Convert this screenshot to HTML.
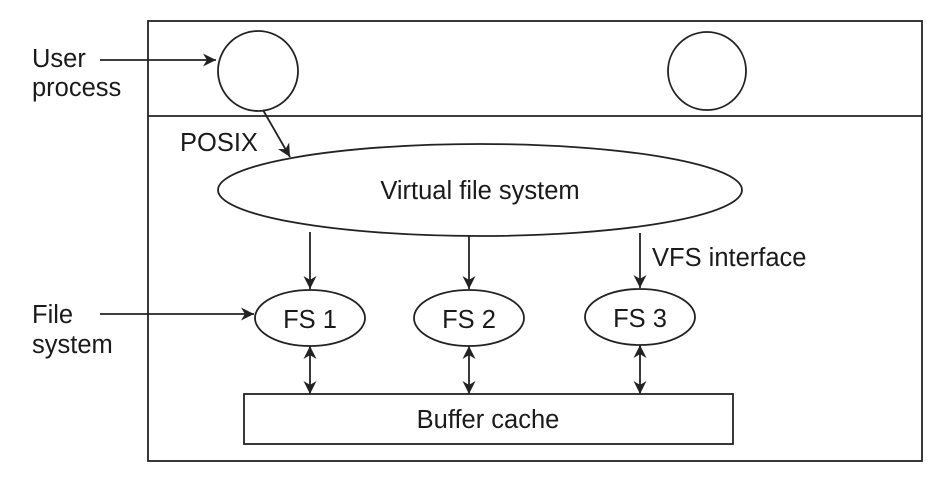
<!DOCTYPE html>
<html><head><style>body{margin:0;background:#fff}svg{display:block}</style></head><body>
<svg width="946" height="491" viewBox="0 0 946 491" xmlns="http://www.w3.org/2000/svg" font-family="Liberation Sans, sans-serif" fill="none" stroke="#222" stroke-width="1.8">
<defs>
<marker id="b" viewBox="0 0 10 10" refX="10" refY="5" markerWidth="17" markerHeight="13" markerUnits="userSpaceOnUse" orient="auto-start-reverse"><path d="M0,0 L10,5 L0,10 L3,5 z" fill="#222" stroke="none"/></marker></defs>
<rect x="148" y="21" width="774" height="440"/>
<line x1="148" y1="116" x2="922" y2="116"/>
<circle cx="258" cy="71" r="40"/>
<circle cx="707" cy="71" r="39"/>
<ellipse cx="480" cy="190" rx="262" ry="46"/>
<ellipse cx="310" cy="318" rx="55" ry="28"/>
<ellipse cx="469" cy="318" rx="55" ry="28"/>
<ellipse cx="640" cy="317" rx="55" ry="28"/>
<rect x="244" y="394" width="489" height="50"/>
<line x1="100" y1="60" x2="216" y2="60" marker-end="url(#b)"/>
<line x1="100" y1="314" x2="254" y2="314" marker-end="url(#b)"/>
<line x1="263" y1="110" x2="290" y2="157" marker-end="url(#b)"/>
<line x1="310" y1="232" x2="310" y2="289" marker-end="url(#b)"/>
<line x1="469" y1="236" x2="469" y2="289" marker-end="url(#b)"/>
<line x1="640" y1="233" x2="640" y2="288" marker-end="url(#b)"/>
<line x1="310" y1="346" x2="310" y2="394" marker-start="url(#b)" marker-end="url(#b)"/>
<line x1="469" y1="346" x2="469" y2="394" marker-start="url(#b)" marker-end="url(#b)"/>
<line x1="640" y1="345" x2="640" y2="394" marker-start="url(#b)" marker-end="url(#b)"/>
<g fill="#1a1a1a" stroke="none" font-size="25.5">
<text x="32" y="67">User</text><text x="32" y="96">process</text>
<text x="32" y="323">File</text><text x="32" y="353">system</text>
<text x="180" y="151">POSIX</text>
<text x="480" y="199" text-anchor="middle">Virtual file system</text>
<text x="652" y="266">VFS interface</text>
<text x="310" y="328" text-anchor="middle">FS 1</text>
<text x="469" y="328" text-anchor="middle">FS 2</text>
<text x="640" y="327" text-anchor="middle">FS 3</text>
<text x="488" y="428" text-anchor="middle">Buffer cache</text>
</g>
</svg>
</body></html>
